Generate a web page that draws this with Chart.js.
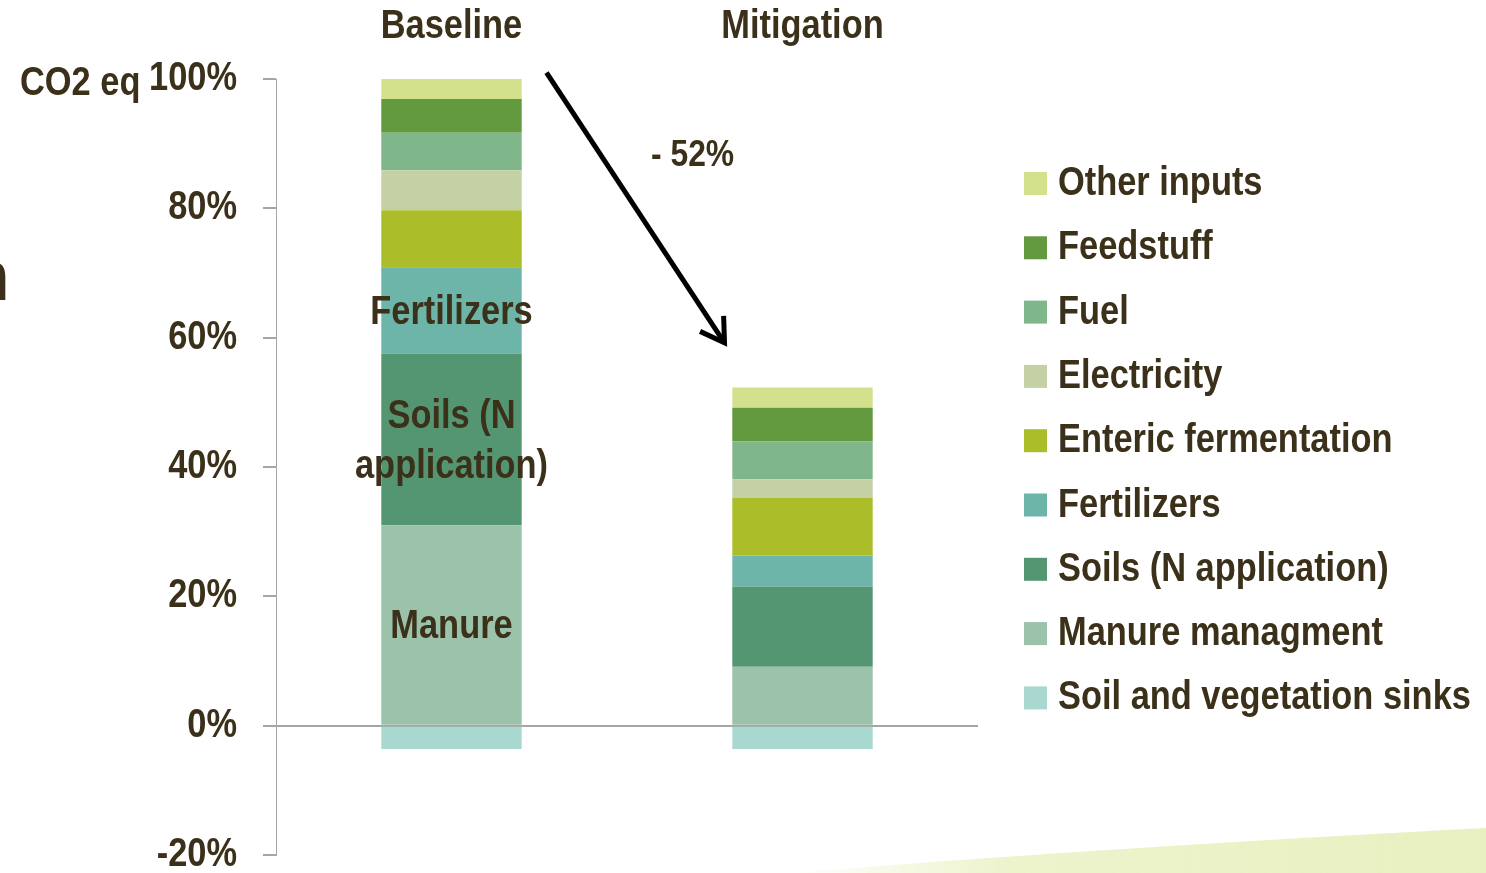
<!DOCTYPE html>
<html>
<head>
<meta charset="utf-8">
<script src="https://cdn.jsdelivr.net/npm/chart.js@4"></script>
<style>
  body { margin: 0; background: #fff; }
  #co2Chart { display: block; }
</style>
</head>
<body>
<canvas id="co2Chart" width="1486" height="873"></canvas>
<script>
// scenario names and stacked shares (% of baseline CO2 eq)
const scenarios = ['Baseline', 'Mitigation'];
const sinks       = [-3.6, -3.6];
const manure      = [31.0, 9.1];
const soilsN      = [26.5, 12.4];
const fertilizers = [13.4, 4.8];
const enteric     = [8.8, 8.9];
const electricity = [6.2, 2.9];
const fuel        = [5.8, 5.9];
const feedstuff   = [5.2, 5.15];
const otherInputs = [3.1, 3.15];
const yTicks = [-20, 0, 20, 40, 60, 80, 100];

// no narrow font installed -> squeeze Liberation Sans bold horizontally
const FONT = "'Liberation Sans', Arial, sans-serif";
const SQUEEZE = 0.86;
const TEXT = '#3b3019';
const AXIS = '#a6a6a6';

function narrowText(c, text, x, y, align, size) {
    c.save();
    c.font = 'bold ' + size + 'px ' + FONT;
    c.fillStyle = TEXT;
    c.textAlign = align;
    c.textBaseline = 'middle';
    c.translate(x, y);
    c.scale(SQUEEZE, 1);
    c.fillText(text, 0, 0);
    c.restore();
}

const ctx = document.getElementById('co2Chart').getContext('2d');

// labels written inside the baseline bar
const insideLabels = {
    'Fertilizers': ['Fertilizers'],
    'Soils (N application)': ['Soils (N', 'application)'],
    'Manure managment': ['Manure']
};

const decorPlugin = {
    id: 'decor',
    beforeDraw(chart) {
        const c = chart.ctx;
        // pale green swoosh at bottom right
        c.save();
        const g = c.createLinearGradient(790, 0, 1486, 0);
        g.addColorStop(0, 'rgba(234,242,196,0)');
        g.addColorStop(0.3, 'rgba(234,242,196,0.85)');
        g.addColorStop(1, 'rgba(232,240,192,1)');
        c.fillStyle = g;
        c.beginPath();
        c.moveTo(790, 873);
        c.quadraticCurveTo(1100, 848, 1486, 828);
        c.lineTo(1486, 873);
        c.closePath();
        c.fill();
        c.restore();
    },
    afterDraw(chart) {
        const c = chart.ctx;
        const x = chart.scales.x;
        const y = chart.scales.y;

        // tick labels from the scales
        y.ticks.forEach((t, i) => {
            narrowText(c, t.value + '%', 237, y.getPixelForTick(i), 'right', 40);
        });
        x.ticks.forEach((t, i) => {
            narrowText(c, scenarios[t.value], x.getPixelForTick(i), 27, 'center', 40);
        });

        // inside-bar labels
        chart.data.datasets.forEach((ds, i) => {
            const lines = insideLabels[ds.label];
            if (!lines) return;
            const bar = chart.getDatasetMeta(i).data[0];
            const mid = (bar.y + bar.base) / 2;
            lines.forEach((t, k) => {
                narrowText(c, t, bar.x, mid + (k - (lines.length - 1) / 2) * 50 + 2, 'center', 40);
            });
        });

        // axis title and cut-off slide title letter
        narrowText(c, 'CO2 eq', 20, 84, 'left', 40);
        narrowText(c, 'n', 9, 281, 'right', 70);

        // reduction arrow from baseline top toward mitigation total
        const x0 = x.getPixelForValue(0) + 95, y0 = y.getPixelForValue(101);
        const x1 = x.getPixelForValue(1) - 78, y1 = y.getPixelForValue(59.2);
        c.save();
        c.strokeStyle = '#000';
        c.lineWidth = 5;
        c.beginPath();
        c.moveTo(x0, y0);
        c.lineTo(x1, y1);
        c.stroke();
        const ang = Math.atan2(y1 - y0, x1 - x0);
        c.beginPath();
        c.moveTo(x1 - 27 * Math.cos(ang - 0.55), y1 - 27 * Math.sin(ang - 0.55));
        c.lineTo(x1, y1);
        c.lineTo(x1 - 27 * Math.cos(ang + 0.55), y1 - 27 * Math.sin(ang + 0.55));
        c.stroke();
        c.restore();
        narrowText(c, '- 52%', 651, 156, 'left', 37);

        // legend, top item = last dataset
        const ds = chart.data.datasets.slice().reverse();
        ds.forEach((d, k) => {
            const cy = 183 + k * 64.3;
            c.fillStyle = d.backgroundColor;
            c.fillRect(1024, cy - 11, 23, 23);
            narrowText(c, d.label, 1058, cy + 1, 'left', 40);
        });
    }
};

const co2Chart = new Chart(ctx, {
    type: 'bar',
    data: {
        labels: scenarios,
        datasets: [
            { label: 'Soil and vegetation sinks', data: sinks, backgroundColor: '#a8d8d0' },
            { label: 'Manure managment', data: manure, backgroundColor: '#9bc2ab' },
            { label: 'Soils (N application)', data: soilsN, backgroundColor: '#559672' },
            { label: 'Fertilizers', data: fertilizers, backgroundColor: '#6db5a8' },
            { label: 'Enteric fermentation', data: enteric, backgroundColor: '#abbe2a' },
            { label: 'Electricity', data: electricity, backgroundColor: '#c3d1a4' },
            { label: 'Fuel', data: fuel, backgroundColor: '#80b78a' },
            { label: 'Feedstuff', data: feedstuff, backgroundColor: '#63993f' },
            { label: 'Other inputs', data: otherInputs, backgroundColor: '#d4e18c' }
        ]
    },
    options: {
        responsive: false,
        animation: false,
        layout: { padding: { left: 0, top: 0, right: 508, bottom: 18 } },
        datasets: { bar: { barPercentage: 0.4, categoryPercentage: 1.0 } },
        plugins: { legend: { display: false }, tooltip: { enabled: false } },
        scales: {
            x: {
                stacked: true,
                position: 'top',
                grid: { display: false, drawTicks: false },
                border: { display: false },
                ticks: { display: false },
                afterFit(scale) { scale.height = 79; scale.paddingLeft = 0; scale.paddingRight = 0; }
            },
            y: {
                stacked: true,
                min: -20,
                max: 100,
                afterBuildTicks(scale) { scale.ticks = yTicks.map(v => ({ value: v })); },
                grid: {
                    color: c => c.tick && c.tick.value === 0 ? AXIS : 'rgba(0,0,0,0)',
                    tickColor: AXIS,
                    tickLength: 13,
                    lineWidth: 2
                },
                border: { display: true, color: AXIS, width: 1 },
                ticks: { display: false },
                afterFit(scale) { scale.width = 276; scale.paddingTop = 0; scale.paddingBottom = 0; }
            }
        }
    },
    plugins: [decorPlugin]
});
</script>
</body>
</html>
